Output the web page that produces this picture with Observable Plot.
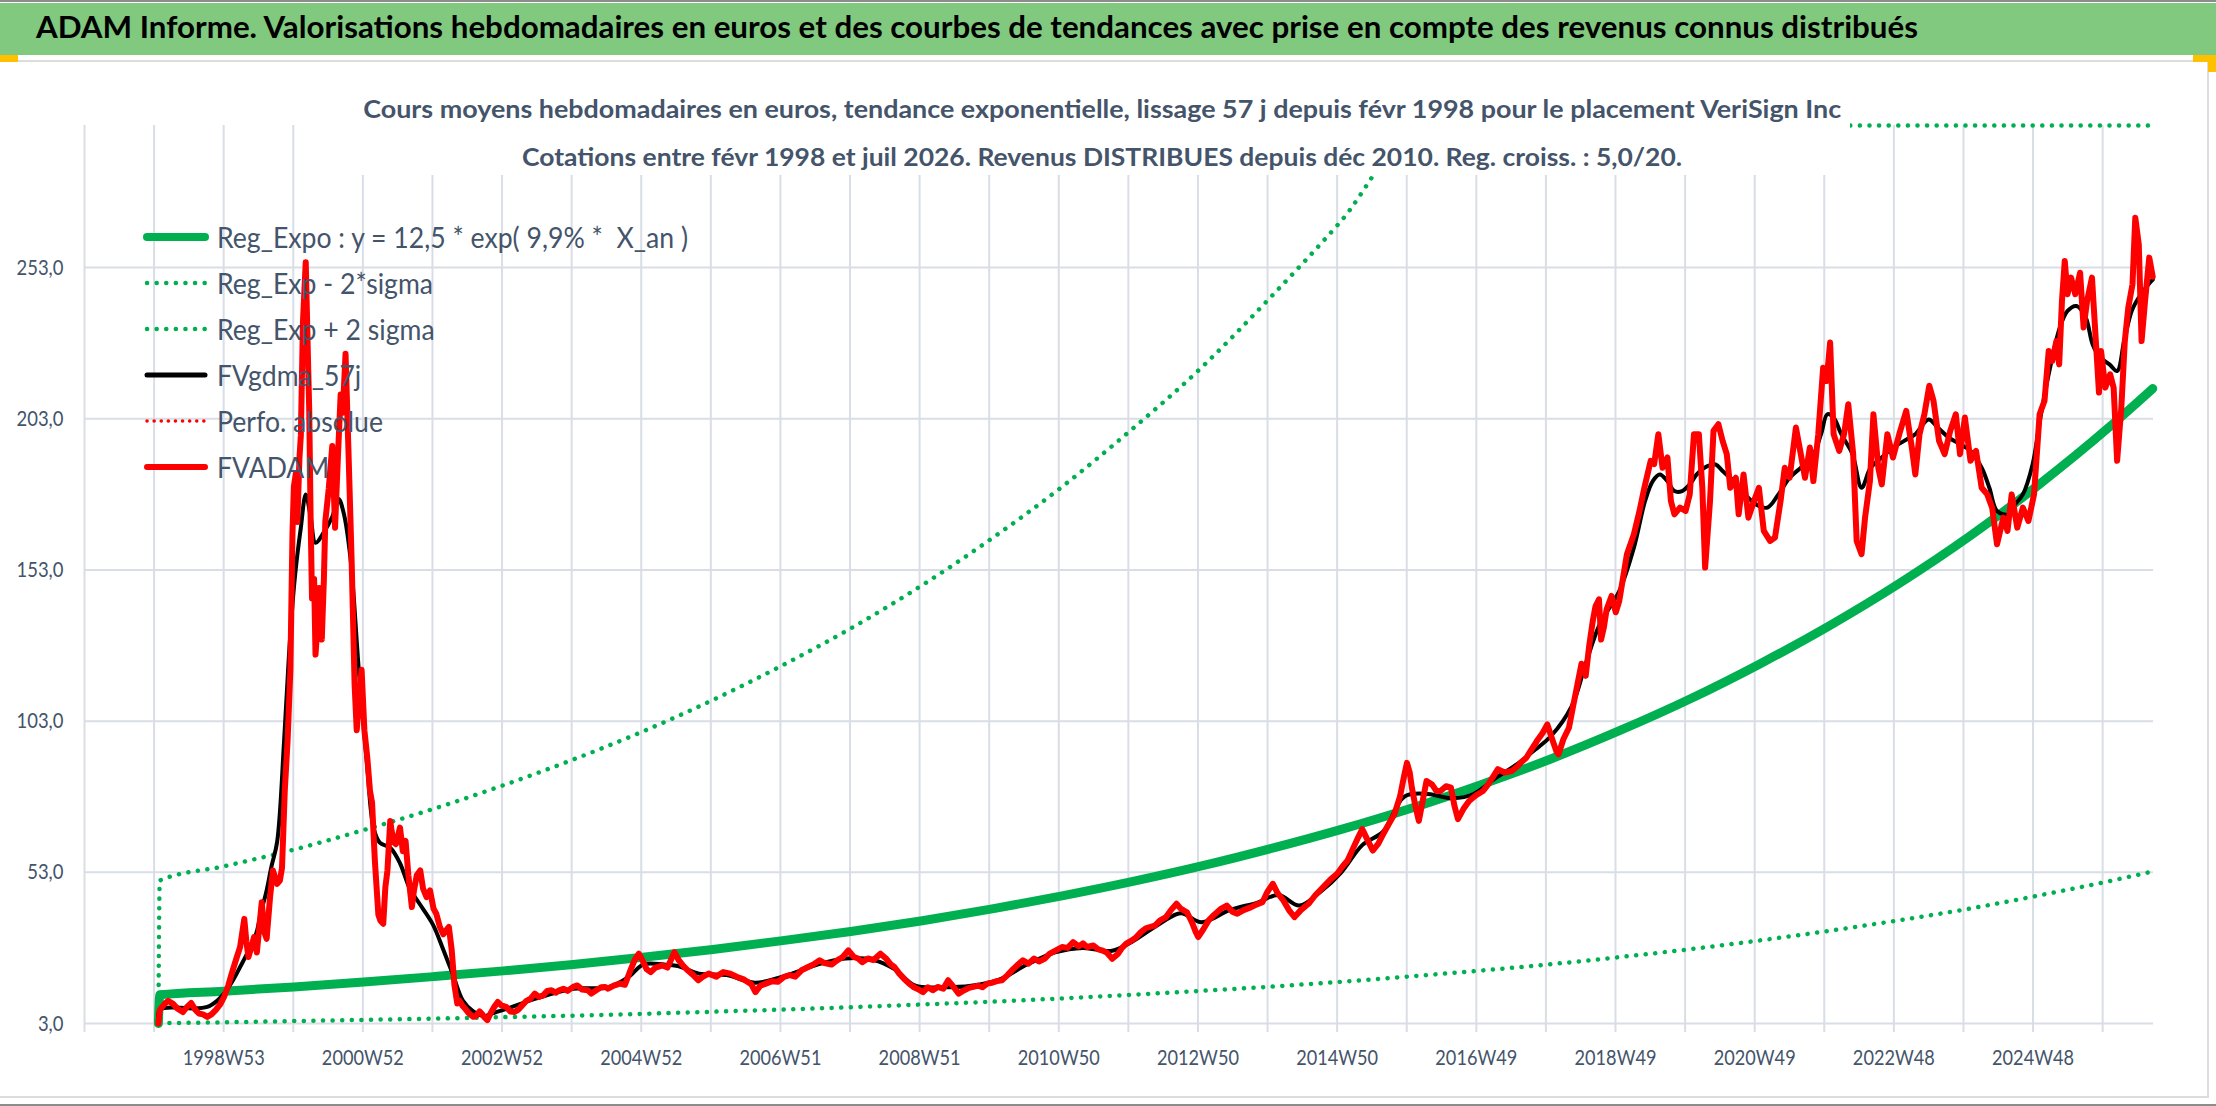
<!DOCTYPE html>
<html><head><meta charset="utf-8">
<script src="https://cdn.jsdelivr.net/npm/d3@7"></script>
<script src="https://cdn.jsdelivr.net/npm/@observablehq/plot@0.6"></script>
<style>
html,body{margin:0;padding:0;background:#fff;}
#page{position:relative;width:2216px;height:1106px;overflow:hidden;font-family:Lato,"Open Sans",sans-serif;background:#fff;}
#topline{position:absolute;left:0;top:0;width:2216px;height:2px;background:#8c8c8c;}
#titlebar{position:absolute;left:0;top:3px;width:2216px;height:52px;background:#80C97F;}
#title{position:absolute;left:36px;top:8px;font-weight:700;font-size:30px;line-height:normal;color:#000;white-space:pre;transform-origin:0 50%;}
#sep{position:absolute;left:0;top:60px;width:2208px;height:2px;background:#dcdcdc;}
#rightline{position:absolute;left:2207px;top:60px;width:2px;height:1038px;background:#dcdcdc;}
#bottomline{position:absolute;left:0;top:1096px;width:2208px;height:2px;background:#dcdcdc;}
#bottomline2{position:absolute;left:0;top:1104px;width:2216px;height:2px;background:#8c8c8c;}
.handle{position:absolute;background:#FFC000;}
#chart{position:absolute;left:0;top:62px;}
#subbox{position:absolute;left:355px;top:70px;width:1495px;height:105px;background:#fff;}
.subline{position:absolute;left:0;right:0;text-align:center;white-space:pre;}
.subline span{display:inline-block;font-weight:700;font-size:25px;line-height:30px;color:#44546A;transform-origin:50% 50%;}
.lrow{position:absolute;left:143px;height:40px;display:flex;align-items:center;white-space:pre;}
.lrow svg{flex:none;margin-right:8px;}
.lrow span{display:inline-block;font-size:28px;line-height:40px;color:#44546A;transform-origin:0 50%;}
</style></head>
<body>
<div id="page">
  <div id="topline"></div>
  <div id="titlebar"></div>
  <div id="title">ADAM Informe. Valorisations hebdomadaires en euros et des courbes de tendances avec prise en compte des revenus connus distribués</div>
  <div id="sep"></div>
  <div id="rightline"></div>
  <div id="bottomline"></div>
  <div id="bottomline2"></div>
  <div class="handle" style="left:0;top:55px;width:18px;height:7px"></div>
  <div class="handle" style="left:2193px;top:55px;width:23px;height:7px"></div>
  <div class="handle" style="left:2208px;top:55px;width:8px;height:17px"></div>
  <div id="chart"></div>
  <div id="subbox">
    <div class="subline" style="top:23px"><span id="sub1">Cours moyens hebdomadaires en euros, tendance exponentielle, lissage 57 j depuis févr 1998 pour le placement VeriSign Inc</span></div>
    <div class="subline" style="top:71px"><span id="sub2">Cotations entre févr 1998 et juil 2026. Revenus DISTRIBUES depuis déc 2010. Reg. croiss. : 5,0/20.</span></div>
  </div>
  <div id="legend"></div>
</div>
<script>
// ---------- axis definitions ----------
const xLabels = ["1998W53","2000W52","2002W52","2004W52","2006W51","2008W51","2010W50","2012W50","2014W50","2016W49","2018W49","2020W49","2022W48","2024W48"];
const yTicks = [3, 53, 103, 153, 203, 253];
const firstLabelYear = 1998.995;     // 1998W53 as decimal year
const weeksPerYear = 52.1786;

// ---------- series (decimal year, value in euros) ----------
const regExpo = [[1998.06,0],[1998.08,12.5],[1999,13.7],[2000,15.1],[2001,16.7],[2002,18.5],[2003,20.4],[2004,22.5],[2005,24.9],[2006,27.5],[2007,30.4],[2008,33.5],[2009,37.0],[2010,40.9],[2011,45.2],[2012,49.9],[2013,55.1],[2014,60.9],[2015,67.2],[2016,74.2],[2017,82.0],[2018,90.5],[2019,100.0],[2020,110.4],[2021,122.0],[2022,134.7],[2023,148.7],[2024,164.2],[2025,181.4],[2026,200.3],[2026.62,213.0]];
const regMinus2Sigma = [[1998.08,3.1],[1999,3.4],[2000,3.8],[2001,4.2],[2002,4.6],[2003,5.1],[2004,5.6],[2005,6.2],[2006,6.9],[2007,7.6],[2008,8.4],[2009,9.3],[2010,10.2],[2011,11.3],[2012,12.5],[2013,13.8],[2014,15.2],[2015,16.8],[2016,18.6],[2017,20.5],[2018,22.6],[2019,25.0],[2020,27.6],[2021,30.5],[2022,33.7],[2023,37.2],[2024,41.0],[2025,45.4],[2026,50.1],[2026.62,53.3]];
const regPlus2Sigma = [[1998.06,0],[1998.08,50.3],[1999,55.0],[2000,60.5],[2001,67.0],[2002,74.0],[2003,81.8],[2004,90.3],[2005,99.6],[2006,110.0],[2007,121.5],[2008,134.0],[2009,148.0],[2010,163.5],[2011,180.5],[2012,199.5],[2013,220.0],[2014,243.5],[2015,268.5],[2016,296.5],[2017,327.5],[2018,362.0],[2019,400.0],[2020,441.0],[2021,487.0],[2022,538.0],[2023,594.0],[2024,656.0],[2025,725.0],[2026,800.0],[2026.62,852.0]];

const fvgdma = [[1998.06,0],[1998.08,7.5],[1998.30,8.3],[1998.55,8.0],[1998.76,8.5],[1998.90,10.5],[1999.00,12.9],[1999.12,17.0],[1999.23,21.7],[1999.35,27.0],[1999.46,32.7],[1999.53,40.0],[1999.60,46.0],[1999.68,55.0],[1999.76,63.0],[1999.86,96.5],[1999.93,125.0],[2000.00,147.0],[2000.05,158.0],[2000.10,167.0],[2000.17,178.0],[2000.24,170.6],[2000.31,162.0],[2000.43,165.5],[2000.55,170.6],[2000.64,176.5],[2000.71,172.2],[2000.81,157.0],[2000.93,120.0],[2001.05,88.0],[2001.14,67.8],[2001.23,62.8],[2001.38,61.1],[2001.52,56.0],[2001.66,47.6],[2001.80,42.6],[2001.99,35.8],[2002.14,27.4],[2002.28,19.0],[2002.42,10.6],[2002.56,7.2],[2002.71,5.5],[2002.90,6.8],[2003.0,7.5],[2003.5,11.5],[2004.0,14.5],[2004.5,15.0],[2004.8,18.5],[2005.0,22.5],[2005.3,22.5],[2005.5,22.0],[2005.8,19.5],[2006.2,19.0],[2006.6,16.5],[2007.0,18.5],[2007.5,22.5],[2007.9,24.5],[2008.3,24.0],[2008.6,21.0],[2008.9,15.5],[2009.3,15.0],[2009.7,15.5],[2010.1,17.5],[2010.5,22.5],[2010.9,26.5],[2011.3,28.0],[2011.7,27.0],[2012.0,30.0],[2012.4,36.0],[2012.7,39.5],[2013.0,36.5],[2013.4,40.5],[2013.8,43.0],[2014.1,45.5],[2014.4,42.0],[2014.7,46.5],[2015.0,53.0],[2015.3,62.0],[2015.6,66.5],[2015.9,78.0],[2016.2,79.0],[2016.6,77.5],[2016.9,79.0],[2017.2,84.0],[2017.5,88.5],[2017.8,94.0],[2018.0,98.0],[2018.3,108.0],[2018.5,122.0],[2018.7,135.0],[2018.98,146.0],[2019.19,160.4],[2019.35,175.8],[2019.46,182.4],[2019.56,184.6],[2019.67,182.4],[2019.77,179.1],[2019.88,179.1],[2019.99,181.3],[2020.09,184.6],[2020.20,186.8],[2020.36,187.9],[2020.46,185.7],[2020.62,182.4],[2020.78,178.0],[2020.94,174.7],[2021.10,173.6],[2021.26,178.0],[2021.42,183.5],[2021.58,186.8],[2021.74,190.2],[2021.87,197.9],[2021.96,204.5],[2022.05,203.4],[2022.16,197.9],[2022.32,191.3],[2022.45,180.2],[2022.58,186.8],[2022.74,190.2],[2022.90,193.5],[2023.06,195.7],[2023.22,197.9],[2023.41,202.8],[2023.54,200.1],[2023.70,196.8],[2023.86,194.6],[2024.01,192.4],[2024.17,186.8],[2024.28,180.2],[2024.39,172.5],[2024.55,171.4],[2024.65,174.7],[2024.76,178.0],[2024.90,188.0],[2025.02,204.5],[2025.15,219.9],[2025.29,233.2],[2025.40,238.7],[2025.53,240.3],[2025.66,236.5],[2025.76,227.6],[2025.87,223.2],[2026.00,221.0],[2026.11,218.8],[2026.21,228.7],[2026.32,238.7],[2026.42,243.1],[2026.56,247.5],[2026.62,249.0]];

const fvadam = [[1998.06,0],[1998.08,7.5],[1998.15,9.5],[1998.20,10.5],[1998.27,9.5],[1998.33,8.0],[1998.41,6.8],[1998.47,8.5],[1998.53,9.8],[1998.59,7.5],[1998.64,6.3],[1998.70,6.0],[1998.76,5.2],[1998.82,6.0],[1998.88,7.4],[1998.95,9.5],[1999.00,11.8],[1999.06,15.5],[1999.11,19.5],[1999.17,24.0],[1999.23,28.3],[1999.29,37.6],[1999.32,30.0],[1999.35,25.0],[1999.40,29.0],[1999.43,31.6],[1999.47,26.5],[1999.51,36.0],[1999.54,43.1],[1999.58,33.0],[1999.61,31.0],[1999.66,45.0],[1999.70,53.6],[1999.76,49.2],[1999.80,50.3],[1999.83,54.4],[1999.87,80.0],[1999.91,96.5],[1999.95,120.0],[1999.98,165.0],[2000.00,180.6],[2000.03,185.0],[2000.05,168.9],[2000.08,190.0],[2000.10,197.5],[2000.13,235.0],[2000.17,254.8],[2000.20,225.0],[2000.22,206.0],[2000.24,170.0],[2000.26,143.6],[2000.29,150.0],[2000.31,125.0],[2000.34,135.0],[2000.36,147.0],[2000.38,140.0],[2000.40,130.0],[2000.43,150.0],[2000.45,169.0],[2000.50,180.0],[2000.55,194.0],[2000.59,167.0],[2000.63,190.0],[2000.67,211.0],[2000.70,205.0],[2000.74,224.5],[2000.78,194.0],[2000.81,170.0],[2000.83,153.7],[2000.87,115.0],[2000.90,100.0],[2000.93,108.0],[2000.97,120.0],[2001.01,100.0],[2001.05,91.4],[2001.09,80.0],[2001.12,76.0],[2001.16,56.9],[2001.21,39.0],[2001.24,37.0],[2001.28,36.0],[2001.31,48.0],[2001.34,53.6],[2001.38,70.0],[2001.40,66.7],[2001.43,63.0],[2001.46,62.3],[2001.49,65.0],[2001.52,67.8],[2001.56,60.0],[2001.60,63.4],[2001.64,52.0],[2001.69,41.5],[2001.72,47.0],[2001.76,52.0],[2001.81,53.6],[2001.85,47.6],[2001.90,44.8],[2001.95,47.0],[2002.00,41.0],[2002.04,39.3],[2002.09,35.0],[2002.14,32.5],[2002.18,33.8],[2002.22,34.9],[2002.26,27.4],[2002.30,15.6],[2002.34,9.6],[2002.37,10.6],[2002.41,9.0],[2002.45,8.0],[2002.50,6.5],[2002.57,5.2],[2002.61,5.5],[2002.66,7.0],[2002.69,6.3],[2002.73,5.0],[2002.77,4.1],[2002.82,6.5],[2002.87,8.5],[2002.92,10.1],[2002.97,9.0],[2003.04,8.5],[2003.10,7.0],[2003.16,6.8],[2003.21,7.5],[2003.27,9.0],[2003.33,10.5],[2003.39,11.2],[2003.45,12.9],[2003.51,11.8],[2003.57,12.3],[2003.63,13.8],[2003.69,14.0],[2003.75,13.2],[2003.80,14.0],[2003.86,14.5],[2003.92,13.8],[2004.00,15.1],[2004.06,15.6],[2004.13,14.2],[2004.21,14.0],[2004.26,12.9],[2004.33,14.0],[2004.40,15.0],[2004.46,15.1],[2004.50,14.5],[2004.58,15.5],[2004.67,16.2],[2004.74,15.8],[2004.82,20.6],[2004.88,24.0],[2004.94,26.1],[2004.99,24.0],[2005.05,21.0],[2005.11,20.0],[2005.18,21.5],[2005.28,22.2],[2005.35,21.5],[2005.40,24.0],[2005.45,26.6],[2005.51,24.0],[2005.58,22.0],[2005.64,20.6],[2005.72,19.0],[2005.79,17.3],[2005.86,18.5],[2005.94,19.5],[2006.05,18.5],[2006.15,20.0],[2006.25,19.5],[2006.35,18.4],[2006.45,17.5],[2006.55,16.0],[2006.61,13.4],[2006.68,15.5],[2006.76,16.2],[2006.85,17.0],[2006.93,16.8],[2007.02,18.4],[2007.10,19.0],[2007.18,18.5],[2007.27,20.6],[2007.35,21.5],[2007.44,22.5],[2007.53,23.9],[2007.60,23.0],[2007.70,22.5],[2007.78,23.9],[2007.86,25.0],[2007.94,27.2],[2008.02,25.0],[2008.08,24.5],[2008.14,23.3],[2008.22,24.5],[2008.30,24.0],[2008.40,26.1],[2008.48,24.5],[2008.55,22.5],[2008.60,21.7],[2008.67,19.5],[2008.75,17.5],[2008.81,16.2],[2008.88,15.0],[2008.95,14.2],[2009.01,13.4],[2009.08,15.0],[2009.15,14.0],[2009.22,15.1],[2009.30,14.5],[2009.37,17.3],[2009.45,15.0],[2009.52,12.9],[2009.60,14.0],[2009.67,14.8],[2009.73,15.1],[2009.80,15.5],[2009.86,15.0],[2009.93,16.2],[2010.00,16.5],[2010.07,17.0],[2010.14,17.3],[2010.22,19.0],[2010.30,21.0],[2010.37,22.5],[2010.44,23.9],[2010.52,22.8],[2010.60,24.5],[2010.67,23.5],[2010.75,24.4],[2010.82,26.0],[2010.90,27.0],[2011.00,28.3],[2011.08,28.0],[2011.16,29.9],[2011.24,28.5],[2011.30,29.5],[2011.36,28.3],[2011.45,28.8],[2011.52,27.5],[2011.57,27.2],[2011.64,26.5],[2011.72,24.4],[2011.80,26.0],[2011.86,28.0],[2011.92,29.4],[2012.00,30.5],[2012.06,31.5],[2012.13,33.2],[2012.20,34.5],[2012.27,35.0],[2012.33,35.4],[2012.40,37.0],[2012.49,38.2],[2012.56,40.5],[2012.64,42.6],[2012.70,41.0],[2012.79,39.8],[2012.86,36.5],[2012.92,33.0],[2012.95,31.6],[2013.02,34.0],[2013.10,37.1],[2013.18,39.0],[2013.28,41.0],[2013.36,42.0],[2013.44,40.0],[2013.51,39.3],[2013.60,40.5],[2013.71,41.5],[2013.80,42.5],[2013.87,43.1],[2013.94,46.5],[2014.02,49.2],[2014.09,46.0],[2014.17,43.7],[2014.25,40.5],[2014.33,38.2],[2014.42,40.5],[2014.53,42.6],[2014.63,45.5],[2014.74,48.1],[2014.84,50.5],[2014.94,52.5],[2015.02,55.0],[2015.09,56.9],[2015.17,61.0],[2015.24,64.5],[2015.30,67.3],[2015.38,63.5],[2015.45,60.2],[2015.53,62.5],[2015.60,65.6],[2015.68,69.0],[2015.76,72.2],[2015.84,78.0],[2015.90,85.0],[2015.94,89.2],[2015.98,86.0],[2016.01,81.0],[2016.06,75.0],[2016.11,70.0],[2016.16,76.0],[2016.22,83.2],[2016.30,82.0],[2016.36,80.0],[2016.42,79.9],[2016.50,81.5],[2016.57,81.0],[2016.62,75.0],[2016.67,70.6],[2016.75,74.0],[2016.83,76.6],[2016.93,78.5],[2017.03,79.9],[2017.10,82.0],[2017.17,84.5],[2017.24,87.1],[2017.34,86.0],[2017.44,86.5],[2017.52,88.0],[2017.58,89.5],[2017.65,90.9],[2017.72,93.5],[2017.80,96.4],[2017.88,99.0],[2017.95,101.9],[2018.02,97.0],[2018.08,93.0],[2018.11,92.0],[2018.18,97.0],[2018.26,100.8],[2018.32,108.0],[2018.38,115.0],[2018.44,122.0],[2018.50,118.0],[2018.55,128.0],[2018.60,136.0],[2018.64,141.0],[2018.69,143.3],[2018.72,130.0],[2018.76,134.0],[2018.80,140.0],[2018.87,144.4],[2018.93,139.0],[2018.98,142.7],[2019.09,158.2],[2019.19,164.8],[2019.27,172.5],[2019.34,180.2],[2019.43,189.1],[2019.48,188.0],[2019.54,197.9],[2019.60,186.8],[2019.67,190.2],[2019.72,175.8],[2019.77,171.4],[2019.85,173.6],[2019.93,172.5],[2019.99,178.0],[2020.05,197.9],[2020.12,197.9],[2020.17,180.2],[2020.21,153.8],[2020.28,175.8],[2020.33,199.0],[2020.40,201.2],[2020.46,195.7],[2020.52,191.3],[2020.57,180.2],[2020.65,183.5],[2020.69,171.4],[2020.76,184.6],[2020.83,170.3],[2020.91,175.8],[2020.98,180.2],[2021.05,165.9],[2021.14,162.6],[2021.21,163.7],[2021.29,175.8],[2021.35,186.8],[2021.42,183.5],[2021.51,200.1],[2021.58,191.3],[2021.64,183.5],[2021.71,193.5],[2021.76,182.4],[2021.83,197.9],[2021.90,219.9],[2021.95,215.5],[2022.00,228.2],[2022.05,197.9],[2022.13,192.4],[2022.20,197.9],[2022.26,207.8],[2022.33,191.3],[2022.38,162.6],[2022.45,158.2],[2022.50,170.3],[2022.57,182.4],[2022.62,204.5],[2022.69,186.8],[2022.74,181.3],[2022.82,197.9],[2022.90,190.2],[2022.99,197.9],[2023.09,205.6],[2023.17,193.5],[2023.22,184.6],[2023.28,197.9],[2023.35,204.5],[2023.42,213.9],[2023.48,209.0],[2023.56,195.7],[2023.64,191.3],[2023.72,199.0],[2023.80,204.5],[2023.86,191.3],[2023.93,203.4],[2024.01,189.1],[2024.09,192.4],[2024.17,180.2],[2024.25,178.0],[2024.32,173.6],[2024.39,161.5],[2024.48,170.3],[2024.54,165.9],[2024.60,178.0],[2024.68,167.0],[2024.76,173.6],[2024.84,169.2],[2024.92,178.0],[2025.00,204.5],[2025.07,209.0],[2025.13,225.4],[2025.18,222.1],[2025.24,228.7],[2025.28,221.0],[2025.32,242.0],[2025.36,255.2],[2025.40,244.2],[2025.45,249.7],[2025.51,244.2],[2025.58,251.3],[2025.63,233.2],[2025.68,242.0],[2025.75,249.7],[2025.85,211.7],[2025.88,225.4],[2025.94,213.3],[2026.01,217.7],[2026.06,213.3],[2026.11,189.1],[2026.17,206.7],[2026.22,228.7],[2026.27,239.8],[2026.33,247.5],[2026.37,269.5],[2026.42,260.7],[2026.46,228.7],[2026.51,242.0],[2026.57,256.3],[2026.62,250.0]];

// ---------- scales / layout ----------
const W = 2216, H = 1044;
const xDomain = [firstLabelYear - 104 / weeksPerYear, firstLabelYear + 1442 / weeksPerYear];
const labelTicks = xLabels.map((_, k) => firstLabelYear + k * 104 / weeksPerYear);
const gridTicks = d3.range(-2, 28).map(j => firstLabelYear + j * 52 / weeksPerYear);
const gridColor = "#D9DDE5";
const green = "#00B050";
const pts = a => a.map(([x, y]) => ({x, y}));

const chart = Plot.plot({
  width: W, height: H,
  marginLeft: 84, marginRight: 63, marginTop: 63, marginBottom: 83,
  style: {fontFamily: "Lato, 'Open Sans', sans-serif", fontSize: "22px", color: "#44546A", background: "transparent", overflow: "visible"},
  x: {type: "linear", domain: xDomain, label: null},
  y: {type: "linear", domain: [3, 300], clamp: true, label: null},
  marks: [
    Plot.gridY(yTicks, {stroke: gridColor, strokeOpacity: 1, strokeWidth: 2}),
    Plot.gridX(gridTicks, {stroke: gridColor, strokeOpacity: 1, strokeWidth: 2}),
    Plot.axisX(gridTicks, {tickSize: 9, tickFormat: () => "", stroke: gridColor, strokeWidth: 2, label: null}),
    Plot.axisX(labelTicks, {tickSize: 0, tickPadding: 26, tickFormat: (d, i) => xLabels[i], fill: "#44546A", fontSize: 22, label: null}),
    Plot.axisY(yTicks, {tickSize: 0, tickPadding: 21, tickFormat: d => d3.format(".1f")(d).replace(".", ","), fill: "#44546A", fontSize: 22, label: null}),
    Plot.line(pts(regExpo), {x: "x", y: "y", stroke: green, strokeWidth: 9, curve: "monotone-x"}),
    Plot.line(pts(regMinus2Sigma), {x: "x", y: "y", stroke: green, strokeWidth: 4.5, strokeDasharray: "0.1 9.5", strokeLinecap: "round", curve: "monotone-x"}),
    Plot.line(pts(regPlus2Sigma), {x: "x", y: "y", stroke: green, strokeWidth: 4.5, strokeDasharray: "0.1 9.5", strokeLinecap: "round", curve: "monotone-x"}),
    Plot.line(pts(fvgdma), {x: "x", y: "y", stroke: "#000", strokeWidth: 4, curve: "catmull-rom"}),
    Plot.line(pts(fvadam), {x: "x", y: "y", stroke: "#FF0000", strokeWidth: 6, strokeLinejoin: "round"})
  ]
});
document.getElementById("chart").appendChild(chart);

// narrow the tick labels (Calibri-like proportions)
function squeeze(sel, sampleText, target) {
  const texts = Array.from(chart.querySelectorAll(sel));
  const sample = texts.find(t => t.textContent === sampleText) || texts[0];
  if (!sample) return;
  const k = target / sample.getComputedTextLength();
  texts.forEach(t => {
    const w = t.getComputedTextLength();
    t.setAttribute("textLength", (w * k).toFixed(1));
    t.setAttribute("lengthAdjust", "spacingAndGlyphs");
  });
}
squeeze('g[aria-label="y-axis tick label"] text', "253,0", 47);
squeeze('g[aria-label="x-axis tick label"] text', "1998W53", 82);

// ---------- legend ----------
const legendItems = [
  {label: "Reg_Expo : y = 12,5 * exp( 9,9% *  X_an )", color: green, w: 8, dash: null},
  {label: "Reg_Exp - 2*sigma", color: green, w: 4.5, dash: "0.1 9.5"},
  {label: "Reg_Exp + 2 sigma", color: green, w: 4.5, dash: "0.1 9.5"},
  {label: "FVgdma_57j", color: "#000", w: 5, dash: null},
  {label: "Perfo. absolue", color: "#FF0000", w: 3.5, dash: "0.1 7"},
  {label: "FVADAM", color: "#FF0000", w: 6, dash: null}
];
const legendTops = [237, 283, 329, 375, 421, 467];
const legend = document.getElementById("legend");
legendItems.forEach((it, i) => {
  const row = document.createElement("div");
  row.className = "lrow";
  row.style.top = (legendTops[i] - 20) + "px";
  row.innerHTML = `<svg width="66" height="14"><line x1="4" x2="62" y1="7" y2="7" stroke="${it.color}" stroke-width="${it.w}" stroke-linecap="round" ${it.dash ? `stroke-dasharray="${it.dash}"` : ""}/></svg><span>${it.label}</span>`;
  legend.appendChild(row);
});
const spans = Array.from(legend.querySelectorAll("span"));
const kLeg = 471 / spans[0].getBoundingClientRect().width;
spans.forEach(s => s.style.transform = `scaleX(${kLeg})`);

// fit title / subtitles widths
function fit(el, target) { el.style.transform = `scaleX(${target / el.getBoundingClientRect().width})`; }
fit(document.getElementById("title"), 1882);
fit(document.getElementById("sub1"), 1478);
fit(document.getElementById("sub2"), 1160);
</script>
</body></html>
